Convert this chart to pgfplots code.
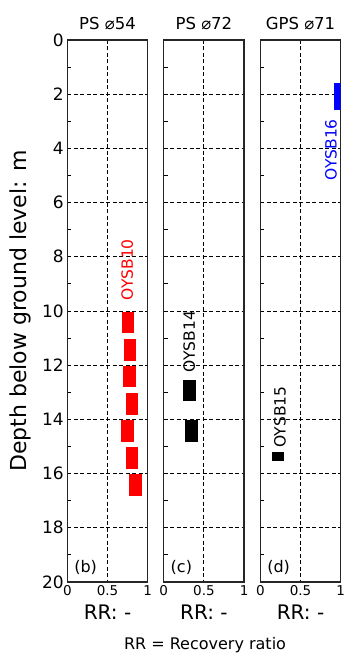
\documentclass[border=0pt]{standalone}
\usepackage{fontspec}
\setmainfont{DejaVu Sans}
\usepackage{pgfplots}
\pgfplotsset{compat=1.18}
\pgfplotsset{
 rrpanel/.style={
  scale only axis, width=80.4pt, height=542pt,
  anchor=south west,
  xmin=0,xmax=1,ymin=0,ymax=20, y dir=reverse,
  xtick={0,0.5,1}, xticklabels={0,0.5,1},
  ytick={0,2,...,20}, minor y tick num=1,
  grid=major,
  major grid style={black, line width=0.9pt, dash pattern=on 4pt off 2.5pt},
  axis line style={line width=1.3pt, black!85},
  tick align=inside, xtick pos=bottom, ytick pos=left,
  major tick length=0pt, minor tick length=4pt,
  minor tick style={line width=0.9pt, black},
  /pgf/number format/assume math mode=true,
  xticklabel style={font=\fontsize{13.5}{14}\selectfont},
  yticklabel style={font=\fontsize{17}{18}\selectfont},
  title style={font=\fontsize{16.5}{18}\selectfont, at={(0.5,1)}, anchor=base, yshift=4.5pt, inner sep=0pt},
  xlabel={RR: -},
  xlabel style={font=\fontsize{20}{22}\selectfont, at={(axis description cs:0.5,0)}, anchor=center, yshift=-30pt},
  unbounded coords=jump,
 },
}
\tikzset{
 rrbar/.style={line width=12.5pt, line cap=butt},
 lab/.style={rotate=90, anchor=west, inner sep=0pt, font=\fontsize{15.5}{16}\selectfont},
 plab/.style={anchor=west, inner sep=0pt, font=\fontsize{16}{17}\selectfont},
}
\begin{document}
\begin{tikzpicture}
\useasboundingbox (0,0) rectangle (346pt,655pt);
% (b) PS 54
\begin{axis}[rrpanel, at={(67.3pt,73pt)}, title={PS ⌀54},
  ylabel={Depth below ground level: m},
  ylabel style={font=\fontsize{22}{24}\selectfont, at={(axis description cs:0,0.5)}, anchor=center, yshift=47.3pt}]
\addplot[red, rrbar] table {
x y
0.757 10.02
0.757 10.81
nan nan
0.780 11.03
0.780 11.83
nan nan
0.771 12.02
0.771 12.81
nan nan
0.805 13.04
0.805 13.83
nan nan
0.749 14.02
0.749 14.83
nan nan
0.805 15.03
0.805 15.83
nan nan
0.848 16.02
0.848 16.82
};
\node[lab, red] at (axis cs:0.745,9.61) {OYSB10};
\node[plab] at (axis cs:0.085,19.47) {(b)};
\end{axis}
% (c) PS 72
\begin{axis}[rrpanel, at={(163.7pt,73pt)}, title={PS ⌀72}, yticklabels={}]
\addplot[black, rrbar] table {
x y
0.323 12.54
0.323 13.32
nan nan
0.344 14.02
0.344 14.83
};
\node[lab, black] at (axis cs:0.317,12.26) {OYSB14};
\node[plab] at (axis cs:0.085,19.47) {(c)};
\end{axis}
% (d) GPS 71
\begin{axis}[rrpanel, at={(260.3pt,73pt)}, title={GPS ⌀71}, yticklabels={}]
\addplot[blue, rrbar] table {
x y
1.0 1.6
1.0 2.59
};
\addplot[black, rrbar] table {
x y
0.22 15.22
0.22 15.53
};
\node[lab, blue] at (axis cs:0.88,5.18) {OYSB16};
\node[lab, black] at (axis cs:0.245,15.05) {OYSB15};
\node[plab] at (axis cs:0.085,19.47) {(d)};
\end{axis}
\node[font=\fontsize{16}{18}\selectfont] at (205pt,10pt) {RR = Recovery ratio};
\end{tikzpicture}
\end{document}
